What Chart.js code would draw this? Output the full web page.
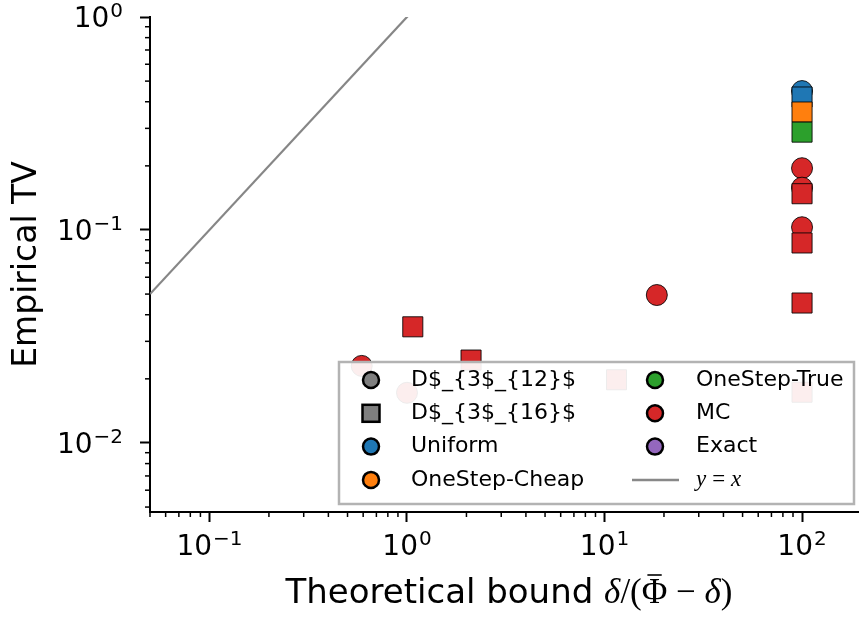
<!DOCTYPE html>
<html>
<head>
<meta charset="utf-8">
<script src="https://cdn.jsdelivr.net/npm/chart.js@4.4.1/dist/chart.umd.min.js"></script>
<style>
  html, body { margin: 0; padding: 0; background: #fff; overflow: hidden; }
  #wrap { width: 859px; height: 623px; position: relative; }
  canvas { display: block; }
</style>
</head>
<body>
<div id="wrap"><canvas id="chart"></canvas></div>
<script>
// tick positions / labels (10^exp)
const xTicks = [0.1, 1, 10, 100];
const xTickExps = ["\u22121", "0", "1", "2"];
const yTicks = [0.01, 0.1, 1];
const yTickExps = ["\u22122", "\u22121", "0"];

// [bound, empirical TV]
const uniformCircle = [[100, 0.449]];
const uniformSquare = [[100, 0.421]];
const cheapSquare = [[100, 0.358]];
const trueSquare = [[100, 0.288]];
const mcCircle = [[0.59, 0.023], [1.0, 0.0172], [18.4, 0.0495], [100, 0.195], [100, 0.158], [100, 0.103]];
const mcSquare = [[1.07, 0.0351], [2.11, 0.0245], [11.5, 0.0198], [100, 0.0173], [100, 0.148], [100, 0.0869], [100, 0.0454]];
const identityLine = [[0.05, 0.05], [200, 200]];

const colors = {
  blue: "#1f77b4",
  orange: "#ff7f0e",
  green: "#2ca02c",
  red: "#d62728",
  purple: "#9467bd",
  gray: "#7f7f7f",
};

const FONT = "'DejaVu Sans', sans-serif";
const MATH = "'Liberation Serif', 'DejaVu Serif', serif";

function pts(arr) {
  return arr.map(([x, y]) => ({ x, y }));
}

function markerSet(label, data, color, shape, order) {
  return {
    label,
    data: pts(data),
    backgroundColor: color,
    borderColor: "rgba(0,0,0,0.85)",
    borderWidth: 1,
    pointStyle: shape,
    pointRadius: shape === "rect" ? 14.2 : 10.5,
    order,
  };
}

// minor ticks of the log axes (matplotlib style)
const minorTicks = {
  id: "minorTicks",
  afterDraw(chart) {
    const { ctx, chartArea, scales } = chart;
    ctx.save();
    ctx.strokeStyle = "#000";
    ctx.lineWidth = 1.5;
    for (let d = -2; d <= 2; d++) {
      for (let k = 2; k <= 9; k++) {
        const v = k * Math.pow(10, d);
        if (v >= scales.x.min && v <= scales.x.max) {
          const px = scales.x.getPixelForValue(v);
          ctx.beginPath();
          ctx.moveTo(px, chartArea.bottom);
          ctx.lineTo(px, chartArea.bottom + 5);
          ctx.stroke();
        }
      }
    }
    for (let d = -3; d <= 0; d++) {
      for (let k = 2; k <= 9; k++) {
        const v = k * Math.pow(10, d);
        if (v >= scales.y.min && v <= scales.y.max) {
          const py = scales.y.getPixelForValue(v);
          ctx.beginPath();
          ctx.moveTo(chartArea.left - 5, py);
          ctx.lineTo(chartArea.left, py);
          ctx.stroke();
        }
      }
    }
    ctx.restore();
  },
};

// "10^k" tick labels and the mixed-font x title
const axisText = {
  id: "axisText",
  afterDraw(chart) {
    const { ctx, chartArea, scales } = chart;
    ctx.save();
    ctx.fillStyle = "#000";
    ctx.strokeStyle = "#000";
    ctx.textBaseline = "alphabetic";
    ctx.textAlign = "left";
    const base = "28px " + FONT;
    const sup = "20px " + FONT;
    function power(exp, cx, baseline, align) {
      ctx.font = base;
      const w1 = ctx.measureText("10").width;
      ctx.font = sup;
      const w2 = ctx.measureText(exp).width;
      const x = align === "center" ? cx - (w1 + w2 + 1) / 2 : cx - (w1 + w2 + 1);
      ctx.font = base;
      ctx.fillText("10", x, baseline);
      ctx.font = sup;
      ctx.fillText(exp, x + w1 + 1, baseline - 10);
    }
    xTicks.forEach((v, i) => power(xTickExps[i], scales.x.getPixelForValue(v), chartArea.bottom + 43, "center"));
    yTicks.forEach((v, i) => power(yTickExps[i], chartArea.left - 27, scales.y.getPixelForValue(v) + 10, "right"));

    // x axis title: text part + math part (macron drawn over the Phi)
    const mf = "35px " + MATH;
    const mi = "italic 35px " + MATH;
    const parts = [
      ["Theoretical bound ", "34px " + FONT],
      ["\u03B4", mi],
      ["/(", mf],
      ["\u03A6", mf, true],
      [" \u2212 ", mf],
      ["\u03B4", mi],
      [")", mf],
    ];
    let total = 0;
    parts.forEach(([t, f]) => { ctx.font = f; total += ctx.measureText(t).width; });
    let x = (chartArea.left + chartArea.right) / 2 + 5 - total / 2;
    const baseline = chartArea.bottom + 91;
    parts.forEach(([t, f, bar]) => {
      ctx.font = f;
      const w = ctx.measureText(t).width;
      ctx.fillText(t, x, baseline);
      if (bar) {
        ctx.lineWidth = 1.6;
        ctx.beginPath();
        ctx.moveTo(x + w * 0.22, baseline - 28);
        ctx.lineTo(x + w * 0.78, baseline - 28);
        ctx.stroke();
      }
      x += w;
    });
    ctx.restore();
  },
};

// legend box in the lower right of the axes, two columns
const boxLegend = {
  id: "boxLegend",
  afterDraw(chart) {
    const { ctx, chartArea } = chart;
    const w = 515, h = 142;
    const x0 = chartArea.right - 4 - w;
    const y0 = chartArea.bottom - 8 - h;
    ctx.save();
    ctx.fillStyle = "rgba(255,255,255,0.92)";
    ctx.fillRect(x0, y0, w, h);
    ctx.strokeStyle = "#b3b3b3";
    ctx.lineWidth = 2.5;
    ctx.strokeRect(x0, y0, w, h);

    const items = [
      { text: "D$_{3$_{12}$", shape: "circle", color: colors.gray },
      { text: "D$_{3$_{16}$", shape: "rect", color: colors.gray },
      { text: "Uniform", shape: "circle", color: colors.blue },
      { text: "OneStep-Cheap", shape: "circle", color: colors.orange },
      { text: "OneStep-True", shape: "circle", color: colors.green },
      { text: "MC", shape: "circle", color: colors.red },
      { text: "Exact", shape: "circle", color: colors.purple },
      { text: "y\u2009=\u2009x", shape: "line", color: "#888" },
    ];
    items.forEach((it, i) => {
      const col = Math.floor(i / 4);
      const row = i % 4;
      const mx = x0 + 32 + col * 284;
      const tx = x0 + 72 + col * 285;
      const my = y0 + 18 + row * 33.3;
      ctx.lineWidth = 2.5;
      ctx.strokeStyle = "#000";
      ctx.fillStyle = it.color;
      if (it.shape === "circle") {
        ctx.beginPath();
        ctx.arc(mx, my, 8, 0, Math.PI * 2);
        ctx.fill();
        ctx.stroke();
      } else if (it.shape === "rect") {
        ctx.fillRect(mx - 8.5, my - 8.5, 17, 17);
        ctx.strokeRect(mx - 8.5, my - 8.5, 17, 17);
      } else {
        ctx.strokeStyle = it.color;
        ctx.lineWidth = 2.5;
        ctx.beginPath();
        ctx.moveTo(mx - 23, my);
        ctx.lineTo(mx + 24, my);
        ctx.stroke();
      }
      ctx.fillStyle = "#000";
      ctx.textBaseline = "middle";
      ctx.textAlign = "left";
      ctx.font = it.shape === "line" ? "italic 23px " + MATH : "22px " + FONT;
      ctx.fillText(it.text, tx, my);
    });
    ctx.restore();
  },
};

new Chart(document.getElementById("chart"), {
  type: "scatter",
  data: {
    datasets: [
      {
        label: "y = x",
        data: pts(identityLine),
        showLine: true,
        borderColor: "rgba(128,128,128,0.95)",
        borderWidth: 2.2,
        pointRadius: 0,
        order: 10,
      },
      markerSet("Uniform", uniformCircle, colors.blue, "circle", 6),
      markerSet("Uniform", uniformSquare, colors.blue, "rect", 5),
      markerSet("OneStep-Cheap", cheapSquare, colors.orange, "rect", 4),
      markerSet("OneStep-True", trueSquare, colors.green, "rect", 3),
      markerSet("MC", mcCircle, colors.red, "circle", 2),
      markerSet("MC", mcSquare, colors.red, "rect", 1),
    ],
  },
  options: {
    responsive: true,
    maintainAspectRatio: false,
    animation: false,
    events: [],
    layout: { autoPadding: false, padding: { top: 17, right: 1, left: 0, bottom: 0 } },
    plugins: { legend: { display: false }, tooltip: { enabled: false } },
    scales: {
      x: {
        type: "logarithmic",
        min: 0.05,
        max: 192,
        afterBuildTicks: (s) => { s.ticks = xTicks.map((v) => ({ value: v })); },
        afterFit: (s) => { s.height = 111; s.paddingLeft = 0; s.paddingRight = 0; },
        border: { color: "#000", width: 2 },
        grid: { drawOnChartArea: false, drawTicks: true, tickLength: 10, tickWidth: 2, tickColor: "#000" },
        ticks: { display: false },
        title: { display: false },
      },
      y: {
        type: "logarithmic",
        min: 0.00474,
        max: 1,
        afterBuildTicks: (s) => { s.ticks = yTicks.map((v) => ({ value: v })); },
        afterFit: (s) => { s.width = 150; s.paddingTop = 0; s.paddingBottom = 0; },
        border: { color: "#000", width: 2 },
        grid: { drawOnChartArea: false, drawTicks: true, tickLength: 10, tickWidth: 2, tickColor: "#000" },
        ticks: { display: false },
        title: {
          display: true,
          text: "Empirical TV",
          color: "#000",
          font: { family: FONT, size: 33 },
          padding: { top: 8, bottom: 0 },
        },
      },
    },
  },
  plugins: [minorTicks, axisText, boxLegend],
});
</script>
</body>
</html>
